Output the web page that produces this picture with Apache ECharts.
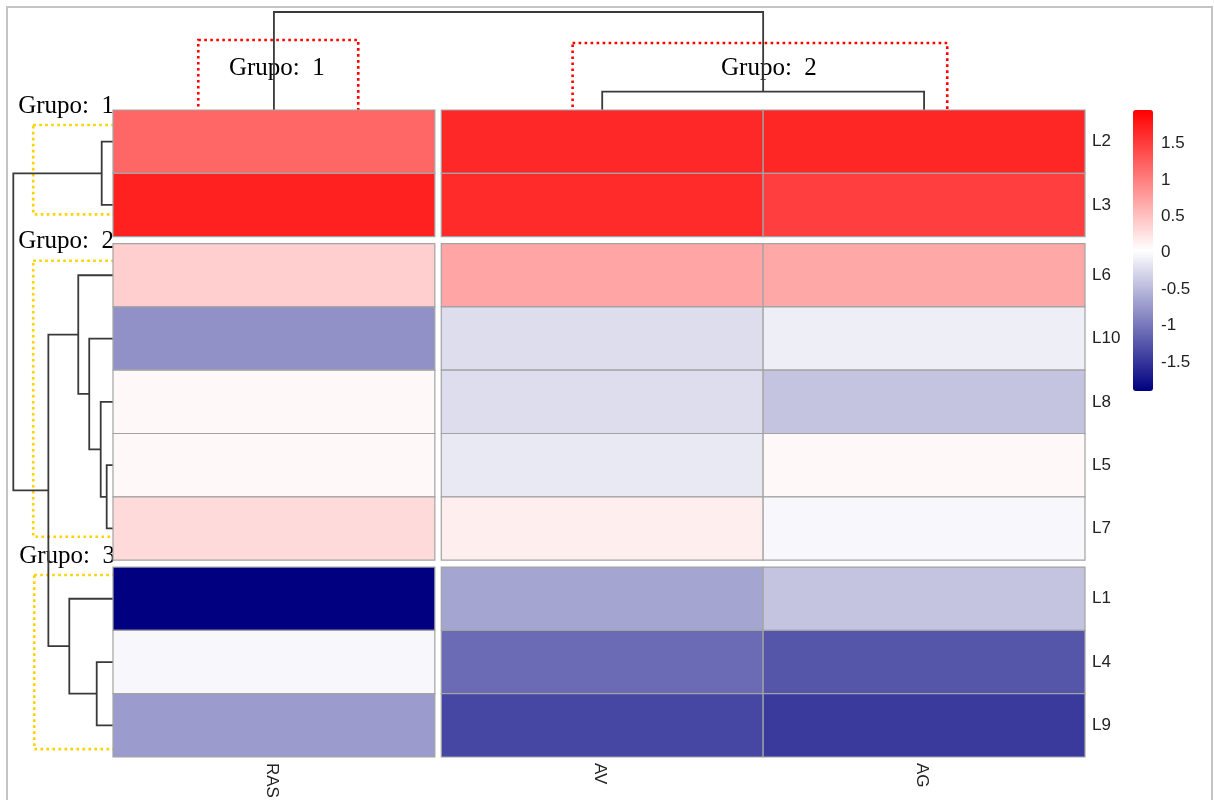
<!DOCTYPE html>
<html>
<head>
<meta charset="utf-8">
<script src="https://cdn.jsdelivr.net/npm/echarts@6/dist/echarts.min.js"></script>
<style>
  html, body { margin: 0; padding: 0; background: #ffffff; }
  #chart { width: 1214px; height: 800px; }
</style>
</head>
<body>
<div id="chart"></div>
<script>
// ---- data -------------------------------------------------------------
// Lines (rows) and traits (columns) in clustered display order
const rowNames = ['L2', 'L3', 'L6', 'L10', 'L8', 'L5', 'L7', 'L1', 'L4', 'L9'];
const colNames = ['RAS', 'AV', 'AG'];

// Cluster sizes along each axis (consecutive in display order)
const rowGroupSizes = [2, 5, 3];
const colGroupSizes = [1, 2];
const rowGroupLabels = ['Grupo:  1', 'Grupo:  2', 'Grupo:  3'];
const colGroupLabels = ['Grupo:  1', 'Grupo:  2'];

// Standardized values per trait, in row order
const rasValues = [1.19, 1.72, 0.39, -0.80, 0.08, 0.08, 0.31, -1.90, -0.02, -0.73];
const avValues  = [1.66, 1.64, 0.71, -0.23, -0.23, -0.14, 0.16, -0.65, -1.10, -1.37];
const agValues  = [1.67, 1.48, 0.69, -0.10, -0.42, 0.08, -0.02, -0.42, -1.26, -1.46];

// Hierarchical merges: [childA, childB, height]; 'mN' refers to the N-th merge
const rowMerges = [
  ['L5', 'L7', 0.38],
  ['L8', 'm1', 0.74],
  ['L2', 'L3', 0.68],
  ['L4', 'L9', 0.98],
  ['L10', 'm2', 1.43],
  ['L6', 'm5', 2.09],
  ['L1', 'm4', 2.63],
  ['m6', 'm7', 3.89],
  ['m3', 'm8', 6.00]
];
const colMerges = [
  ['AV', 'AG', 0.75],
  ['RAS', 'm1', 4.00]
];

// Colour scale
const valueMin = -1.90;
const valueMax = 1.96;
const colorTicks = [-1.5, -1, -0.5, 0, 0.5, 1, 1.5];

// ---- layout -----------------------------------------------------------
const HM = { left: 113, top: 110, width: 972, height: 647 };
const ROW_GAP = 0.11;   // gap between row clusters, in row units
const COL_GAP = 0.02;   // gap between column clusters, in column units
const ROW_DEND = { left: 13.3, width: 99.7 };
const COL_DEND = { top: 12, height: 98 };
// dotted cluster frames: rows [outer height, top, bottom]; columns [left, right, top height]
const ROW_BOX = [[4.80, 0.237, 1.648], [4.80, 2.381, 6.741], [4.74, 7.346, 10.095]];
const COL_BOX = [[0.265, 0.762, 2.857], [1.428, 2.592, 2.735]];
const COL_LABEL_AT = [[0.509, 1.714], [2.038, 1.714]];

const SANS = '"Liberation Sans", Arial, sans-serif';
const SERIF = '"Liberation Serif", "Times New Roman", serif';

function layoutAxis(sizes, gap) {
  const start = [];
  let p = 0;
  sizes.forEach(n => {
    for (let i = 0; i < n; i++) { start.push(p); p += 1; }
    p += gap;
  });
  return { start, total: p - gap };
}
const rowLay = layoutAxis(rowGroupSizes, ROW_GAP);
const colLay = layoutAxis(colGroupSizes, COL_GAP);

const valuesByCol = [rasValues, avValues, agValues];
const cells = [];
rowNames.forEach((r, i) => {
  colNames.forEach((c, j) => {
    cells.push([colLay.start[j], rowLay.start[i], valuesByCol[j][i]]);
  });
});

function buildDendro(leaves, leafPos, merges) {
  const nodes = {};
  leaves.forEach((n, i) => { nodes[n] = { pos: leafPos[i], h: 0 }; });
  const segs = [];
  merges.forEach((m, k) => {
    const a = nodes[m[0]], b = nodes[m[1]], h = m[2];
    segs.push([h, a.pos, b.pos, a.h, b.h]);
    nodes['m' + (k + 1)] = { pos: (a.pos + b.pos) / 2, h: h };
  });
  return segs;
}
const rowSegs = buildDendro(rowNames, rowLay.start.map(s => s + 0.5), rowMerges);
const colSegs = buildDendro(colNames, colLay.start.map(s => s + 0.5), colMerges);
const rowRoot = rowMerges[rowMerges.length - 1][2];
const colRoot = colMerges[colMerges.length - 1][2];

function txt(x, y, text, extra) {
  return Object.assign({
    type: 'text', x: x, y: y,
    style: {
      text: text, fill: '#222', fontSize: 17, fontFamily: SANS,
      align: 'left', textAlign: 'left', verticalAlign: 'middle', textVerticalAlign: 'middle'
    }
  }, extra || {});
}

const hidden = { show: false };
const chart = echarts.init(document.getElementById('chart'));

chart.setOption({
  animation: false,
  backgroundColor: '#ffffff',
  grid: [
    { left: HM.left, top: HM.top, width: HM.width, height: HM.height },
    { left: ROW_DEND.left, top: HM.top, width: ROW_DEND.width, height: HM.height },
    { left: HM.left, top: COL_DEND.top, width: HM.width, height: COL_DEND.height },
    { left: 1133, top: 110, width: 20, height: 281 }
  ],
  xAxis: [
    Object.assign({ gridIndex: 0, type: 'value', min: 0, max: colLay.total }, hidden),
    Object.assign({ gridIndex: 1, type: 'value', min: 0, max: rowRoot, inverse: true }, hidden),
    Object.assign({ gridIndex: 2, type: 'value', min: 0, max: colLay.total }, hidden),
    Object.assign({ gridIndex: 3, type: 'value', min: 0, max: 1 }, hidden)
  ],
  yAxis: [
    Object.assign({ gridIndex: 0, type: 'value', min: 0, max: rowLay.total, inverse: true }, hidden),
    Object.assign({ gridIndex: 1, type: 'value', min: 0, max: rowLay.total, inverse: true }, hidden),
    Object.assign({ gridIndex: 2, type: 'value', min: 0, max: colRoot }, hidden),
    Object.assign({ gridIndex: 3, type: 'value', min: valueMin, max: valueMax }, hidden)
  ],
  visualMap: {
    type: 'continuous',
    seriesIndex: 0,
    dimension: 2,
    min: valueMin,
    max: valueMax,
    calculable: false,
    hoverLink: false,
    orient: 'vertical',
    left: 1133,
    top: 110,
    itemWidth: 20,
    itemHeight: 281,
    padding: 0,
    inRange: { color: ['#000080', '#ffffff', '#ff0000'] }
  },
  graphic: [{
    type: 'rect',
    shape: { x: 7, y: 7, width: 1205, height: 830 },
    style: { fill: null, stroke: '#c4c4c4', lineWidth: 2 },
    silent: true
  }],
  series: [
    // heatmap cells
    {
      type: 'custom', xAxisIndex: 0, yAxisIndex: 0, z: 10,
      data: cells,
      renderItem: function (params, api) {
        const x0 = api.value(0), y0 = api.value(1);
        const p0 = api.coord([x0, y0]);
        const p1 = api.coord([x0 + 1, y0 + 1]);
        return {
          type: 'rect',
          shape: { x: p0[0], y: p0[1], width: p1[0] - p0[0], height: p1[1] - p0[1] },
          style: { fill: api.visual('color'), stroke: '#a3a3a3', lineWidth: 1.2 }
        };
      }
    },
    // row labels on the right
    {
      type: 'custom', xAxisIndex: 0, yAxisIndex: 0, z: 11,
      data: rowLay.start.map(s => [colLay.total, s + 0.5]),
      renderItem: function (params, api) {
        const p = api.coord([api.value(0), api.value(1)]);
        return txt(p[0] + 7, p[1], rowNames[params.dataIndex]);
      }
    },
    // column labels below, rotated
    {
      type: 'custom', xAxisIndex: 0, yAxisIndex: 0, z: 11,
      data: colLay.start.map(s => [s + 0.5, rowLay.total]),
      renderItem: function (params, api) {
        const p = api.coord([api.value(0), api.value(1)]);
        return txt(p[0] - 2.5, p[1] + 6, colNames[params.dataIndex], { rotation: -Math.PI / 2 });
      }
    },
    // row dendrogram
    {
      type: 'custom', xAxisIndex: 1, yAxisIndex: 1, z: 4,
      data: rowSegs,
      renderItem: function (params, api) {
        const h = api.value(0), pa = api.value(1), pb = api.value(2), ha = api.value(3), hb = api.value(4);
        return {
          type: 'polyline',
          shape: { points: [api.coord([ha, pa]), api.coord([h, pa]), api.coord([h, pb]), api.coord([hb, pb])] },
          style: { stroke: '#3a3a3a', lineWidth: 1.8, fill: null }
        };
      }
    },
    // column dendrogram
    {
      type: 'custom', xAxisIndex: 2, yAxisIndex: 2, z: 4,
      data: colSegs,
      renderItem: function (params, api) {
        const h = api.value(0), pa = api.value(1), pb = api.value(2), ha = api.value(3), hb = api.value(4);
        return {
          type: 'polyline',
          shape: { points: [api.coord([pa, ha]), api.coord([pa, h]), api.coord([pb, h]), api.coord([pb, hb])] },
          style: { stroke: '#3a3a3a', lineWidth: 1.8, fill: null }
        };
      }
    },
    // row cluster frames and titles
    {
      type: 'custom', xAxisIndex: 1, yAxisIndex: 1, z: 2,
      data: ROW_BOX,
      renderItem: function (params, api) {
        const a = api.coord([api.value(0), api.value(1)]);
        const b = api.coord([-0.4, api.value(2)]);
        return {
          type: 'group',
          children: [
            {
              type: 'rect',
              shape: { x: a[0], y: a[1], width: b[0] - a[0], height: b[1] - a[1] },
              style: { fill: null, stroke: '#ffd200', lineWidth: 2.6, lineDash: [2.6, 3.4] }
            },
            {
              type: 'text', x: a[0] - 15, y: a[1] - 19,
              style: {
                text: rowGroupLabels[params.dataIndex], fill: '#000', fontSize: 25, fontFamily: SERIF,
                align: 'left', textAlign: 'left', verticalAlign: 'middle', textVerticalAlign: 'middle'
              }
            }
          ]
        };
      }
    },
    // column cluster frames and titles
    {
      type: 'custom', xAxisIndex: 2, yAxisIndex: 2, z: 2,
      data: COL_BOX,
      renderItem: function (params, api) {
        const a = api.coord([api.value(0), api.value(2)]);
        const b = api.coord([api.value(1), -0.3]);
        const lp = api.coord(COL_LABEL_AT[params.dataIndex]);
        return {
          type: 'group',
          children: [
            {
              type: 'rect',
              shape: { x: a[0], y: a[1], width: b[0] - a[0], height: b[1] - a[1] },
              style: { fill: null, stroke: '#ff0000', lineWidth: 2.6, lineDash: [2.6, 3.4] }
            },
            {
              type: 'text', x: lp[0], y: lp[1],
              style: {
                text: colGroupLabels[params.dataIndex], fill: '#000', fontSize: 25, fontFamily: SERIF,
                align: 'center', textAlign: 'center', verticalAlign: 'middle', textVerticalAlign: 'middle'
              }
            }
          ]
        };
      }
    },
    // colour bar tick labels
    {
      type: 'custom', xAxisIndex: 3, yAxisIndex: 3, z: 5,
      data: colorTicks,
      renderItem: function (params, api) {
        const v = api.value(0);
        const p = api.coord([1, v]);
        return txt(p[0] + 8, p[1], String(colorTicks[params.dataIndex]));
      }
    }
  ]
});
</script>
</body>
</html>
